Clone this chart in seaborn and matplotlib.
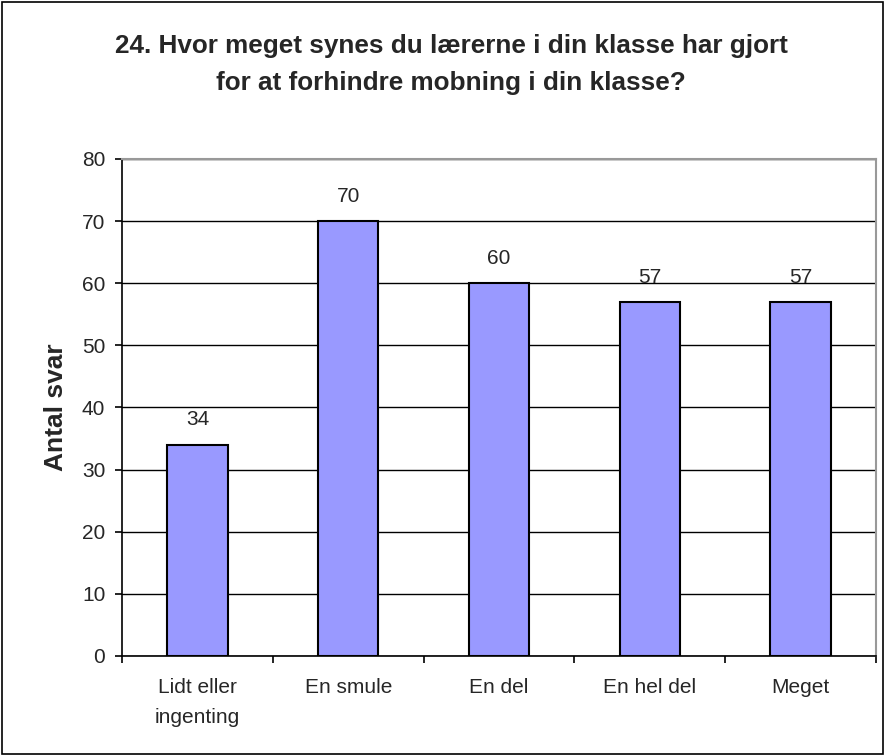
import matplotlib
matplotlib.use("Agg")
import matplotlib.pyplot as plt
import matplotlib.patches as mpatches
import seaborn as sns
import pandas as pd

# Data
categories = ["Lidt eller\ningenting", "En smule", "En del", "En hel del", "Meget"]
antal_svar = [34, 70, 60, 57, 57]

df = pd.DataFrame({"kategori": categories, "antal": antal_svar})

sns.set_style("white")
plt.rcParams["font.family"] = ["Liberation Sans", "DejaVu Sans"]

fig = plt.figure(figsize=(8.85, 7.56), dpi=100)
ax = fig.add_axes([0.1379, 0.1323, 0.8519, 0.6574])

sns.barplot(data=df, x="kategori", y="antal", color="#9999FF",
            saturation=1, edgecolor="black", linewidth=1.5, width=0.4, ax=ax)

for c in ax.containers:
    ax.bar_label(c, fmt="%d", padding=11, fontsize=15)

ax.set_xlim(-0.5, 4.5)
ax.set_ylim(0, 80)
ax.set_yticks(range(0, 81, 10))
ax.yaxis.grid(True, color="black", linewidth=1)
ax.set_axisbelow(True)

ax.set_xlabel("")
ax.set_ylabel("Antal svar", fontsize=19, fontweight="bold", labelpad=10)
ax.tick_params(axis="y", labelsize=15, length=5, width=1.2, pad=7, direction="out", left=True, color="black")
ax.set_xticks(range(len(categories)))
ax.set_xticklabels(categories, linespacing=1.75)
ax.tick_params(axis="x", which="major", labelsize=15, length=0, pad=16)
ax.set_xticks([i + 0.5 for i in range(-1, 5)], minor=True)
ax.tick_params(axis="x", which="minor", length=5, width=1.2, direction="out", bottom=True, color="black")

for side in ["left", "bottom"]:
    ax.spines[side].set_color("black")
    ax.spines[side].set_linewidth(1.2)
for side in ["top", "right"]:
    ax.spines[side].set_visible(True)
    ax.spines[side].set_color("#999999")
    ax.spines[side].set_linewidth(1.5)

fig.text(0.51, 0.915, "24. Hvor meget synes du lærerne i din klasse har gjort\nfor at forhindre mobning i din klasse?",
         ha="center", va="center", fontsize=18.8, fontweight="bold", linespacing=1.7)

fig.patches.append(mpatches.Rectangle((0.002, 0.002), 0.996, 0.996, transform=fig.transFigure,
                                      fill=False, edgecolor="black", linewidth=1.2))

fig.savefig("out.png", dpi=100)
